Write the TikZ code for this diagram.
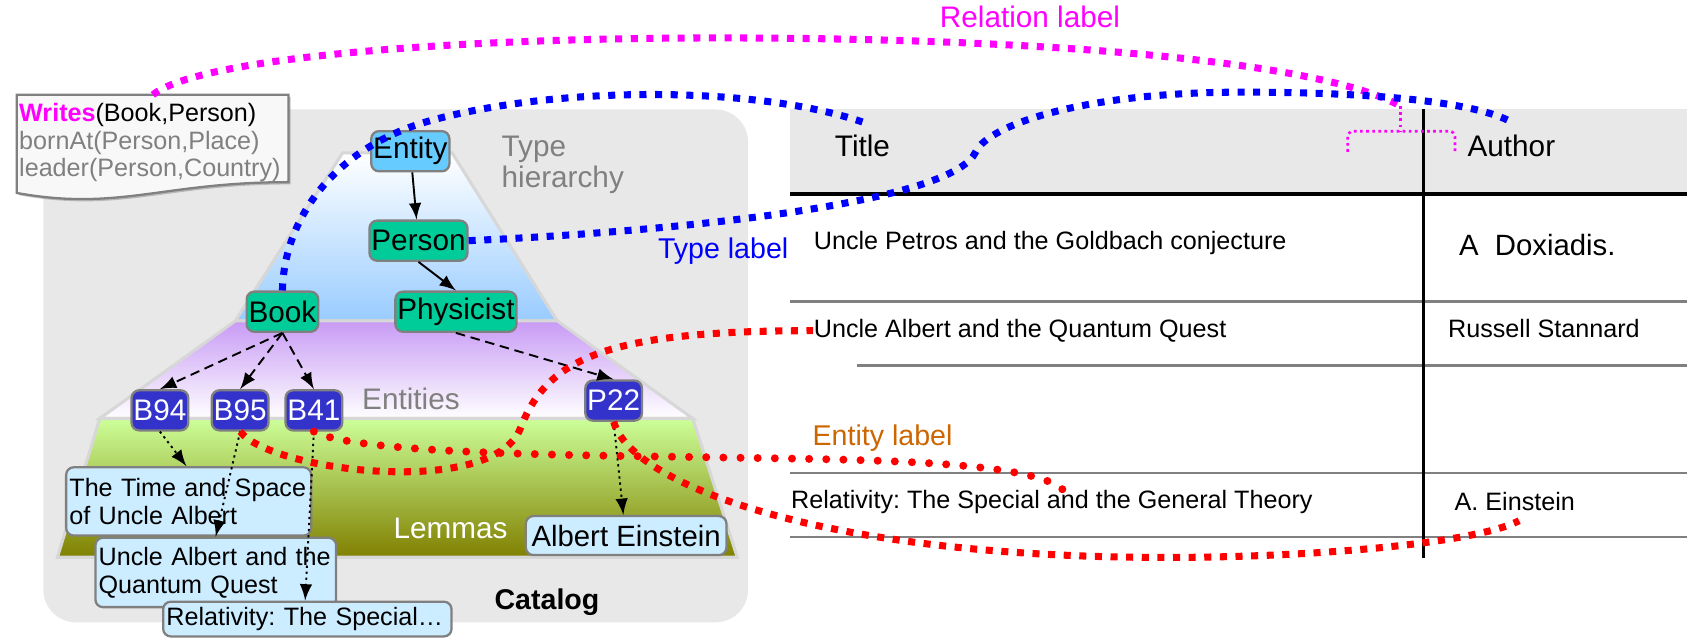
\documentclass[tikz,border=0pt]{standalone}
\usepackage{fontspec}
\setmainfont{Liberation Sans}
\usepackage{xcolor}
\usetikzlibrary{shadows}

\definecolor{catgray}{RGB}{232,232,232}
\definecolor{entblue}{RGB}{102,204,255}
\definecolor{typegreen}{RGB}{0,204,153}
\definecolor{instblue}{RGB}{51,51,204}
\definecolor{lemcyan}{RGB}{204,236,255}
\definecolor{boxgray}{RGB}{128,128,128}
\definecolor{txtgray}{RGB}{128,128,128}
\definecolor{skyb}{RGB}{153,204,255}
\definecolor{lilac}{RGB}{200,155,245}
\definecolor{lgreen}{RGB}{204,255,153}
\definecolor{olivegreen}{RGB}{128,128,0}
\definecolor{lblorange}{RGB}{204,102,0}
\definecolor{edgegray}{RGB}{215,215,215}
\definecolor{notewhite}{RGB}{248,248,248}
\definecolor{relmag}{RGB}{255,0,255}
\definecolor{typeblue}{RGB}{0,0,255}
\definecolor{entred}{RGB}{255,0,0}

\tikzset{
  nodebox/.style={draw=boxgray, line width=0.6pt, rounded corners=2pt, inner sep=0.5pt, minimum height=0.37cm},
  typebox/.style={nodebox, fill=typegreen},
  instbox/.style={nodebox, fill=instblue, text=white, minimum width=0.51cm},
  lembox/.style={nodebox, fill=lemcyan, align=left, inner xsep=0.03cm, font=\fontsize{6.6}{7.4}\selectfont},
  pyrlayer/.style={draw=edgegray, line width=0.8pt},
  sqdots/.style={line width=1.85pt, dash pattern=on 1.85pt off 2.25pt},
  rddots/.style={line width=2.1pt, line cap=round, dash pattern=on 0pt off 4.5pt},
  bracedots/.style={relmag, line width=0.7pt, dash pattern=on 0.7pt off 0.9pt},
  isa/.style={-latex, line width=0.5pt},
  instarrow/.style={-latex, line width=0.5pt, dash pattern=on 2.5pt off 1.5pt},
  lemarrow/.style={-latex, line width=0.5pt, dash pattern=on 0.6pt off 1pt},
  tabtxt/.style={anchor=west, inner sep=0pt, font=\fontsize{6.6}{8}\selectfont},
  rowline/.style={draw=boxgray, line width=0.6pt},
}

\begin{document}
\frenchspacing
\begin{tikzpicture}[font=\fontsize{7.8}{9.4}\selectfont]

\useasboundingbox (0,0) rectangle (15.68,5.92);

\fill[catgray, rounded corners=0.3cm] (0.40,0.18) rectangle (6.90,4.91);

\shadedraw[pyrlayer, top color=white, bottom color=skyb] (3.16,4.51) -- (4.17,4.51) -- (5.14,2.96) -- (2.17,2.96) -- cycle;
\shadedraw[pyrlayer, top color=lilac, bottom color=white] (2.17,2.96) -- (5.14,2.96) -- (6.39,2.06) -- (0.92,2.06) -- cycle;
\shadedraw[pyrlayer, top color=lgreen, bottom color=olivegreen] (0.92,2.06) -- (6.39,2.06) -- (6.80,0.78) -- (0.53,0.78) -- cycle;

\fill[catgray] (7.29,4.13) rectangle (15.56,4.91);
\draw[rowline] (7.29,3.14) -- (15.56,3.14);
\draw[rowline] (7.90,2.55) -- (15.56,2.55);
\draw[rowline] (7.29,1.56) -- (15.56,1.56);
\draw[rowline] (7.29,0.97) -- (15.56,0.97);
\draw[line width=0.9pt] (7.29,4.13) -- (15.56,4.13);
\draw[line width=0.7pt] (13.13,4.91) -- (13.13,0.77);

\draw[draw=boxgray, fill=notewhite, line width=0.6pt, drop shadow={shadow xshift=0.6pt, shadow yshift=-0.6pt, opacity=0.45}]
  (0.155,5.045) -- (2.66,5.045) -- (2.66,4.24) .. controls (1.50,4.24) and (1.10,3.97) .. (0.155,4.14) -- cycle;
\coordinate (notetop) at (1.41,5.045);
\node[anchor=north west, align=left, inner sep=0pt, font=\fontsize{6.6}{7.1}\selectfont] at (0.17,4.97) (notetxt)
  {{\color{relmag}\bfseries Writes}(Book,Person)\\ \textcolor{txtgray}{bornAt(Person,Place)}\\ \textcolor{txtgray}{leader(Person,Country)}};

\node[typebox, fill=entblue] at (3.785,4.525) (en) {Entity};
\node[typebox] at (3.86,3.70) (ps) {Person};
\node[typebox] at (2.605,3.045) (bk) {Book};
\node[typebox] at (4.205,3.045) (phy) {Physicist};
\node[instbox] at (1.475,2.135) (b94) {B94};
\node[instbox] at (2.215,2.135) (b95) {B95};
\node[instbox] at (2.895,2.135) (b41) {B41};
\node[instbox] at (5.66,2.225) (p22) {P22};

\node[lembox, text width=2.20cm, minimum height=0.63cm] at (1.74,1.295) (tsua) {The Time and Space\\of Uncle Albert};
\node[lembox, text width=2.16cm, minimum height=0.64cm] at (1.99,0.64) (uaqq) {Uncle Albert and the\\Quantum Quest};
\node[lembox, text width=2.60cm, minimum height=0.32cm] at (2.835,0.21) (rtsp) {Relativity: The Special…};
\node[lembox, align=center, minimum width=1.85cm, minimum height=0.36cm, font=\fontsize{7.7}{9}\selectfont] at (5.775,0.98) (aebox) {Albert Einstein};

\draw[isa] (en) -- (ps);
\draw[isa] (ps.south) -- (phy.north);
\draw[instarrow] (bk.south) -- (b94.north);
\draw[instarrow] (bk.south) -- (b95.north);
\draw[instarrow] (bk.south) -- (b41.north);
\draw[instarrow] (phy.south) -- (p22.north);
\draw[lemarrow] (b94.south) -- ([xshift=1.12cm]tsua.north west);
\draw[lemarrow] (b95.south) -- ([xshift=1.12cm]uaqq.north west);
\draw[lemarrow] (b41.south) -- ([xshift=1.32cm]rtsp.north west);
\draw[lemarrow] (p22.south) -- ([xshift=0.91cm]aebox.north west);

\node[text=txtgray, anchor=north west, align=left, inner sep=0pt, font=\fontsize{7.8}{8.25}\selectfont] at (4.62,4.675) (typehier) {Type\\hierarchy};
\node[text=txtgray] at (3.79,2.24) (entlbl) {Entities};
\node[text=white] at (4.155,1.05) (lemlbl) {Lemmas};
\node[font=\fontsize{7.5}{9}\selectfont\bfseries] at (5.045,0.37) (catlbl) {Catalog};

\node[text=typeblue, font=\fontsize{7.5}{9}\selectfont] at (6.67,3.60) (typelabel) {Type label};
\node[text=lblorange, font=\fontsize{7.5}{9}\selectfont] at (8.14,1.88) (entitylabel) {Entity label};
\node[text=relmag] at (9.50,5.76) (rellabel) {Relation label};

\node at (7.955,4.57) (ttl) {Title};
\node at (13.94,4.57) (au) {Author};
\node[tabtxt] at (7.50,3.68) (petros) {Uncle Petros and the Goldbach conjecture};
\node[tabtxt, font=\fontsize{7.7}{9}\selectfont] at (13.45,3.66) (doxi) {A\ \ Doxiadis.};
\node[tabtxt] at (7.50,2.87) (qrow) {Uncle Albert and the Quantum Quest};
\node[tabtxt] at (13.35,2.89) (russ) {Russell Stannard};
\node[tabtxt] at (7.29,1.29) (rrow) {Relativity: The Special and the General Theory};
\node[tabtxt] at (13.41,1.29) (aein) {A. Einstein};

\coordinate (bracetop) at (12.92,4.94);
\draw[bracedots] (bracetop) -- (12.92,4.71);
\draw[bracedots, rounded corners=1.5pt] (12.43,4.52) |- (13.42,4.71) -- (13.42,4.52);

\draw[sqdots, relmag] (notetop) .. controls (1.80,5.37) and (4.00,5.57) .. (6.64,5.57) .. controls (9.50,5.57) and (12.15,5.37) .. (bracetop);
\draw[sqdots, typeblue] (bk.north) .. controls (2.62,3.92) and (3.10,4.57) .. (3.98,4.81) .. controls (5.20,5.14) and (7.00,5.12) .. (ttl.north);
\draw[sqdots, typeblue] (ps.east) .. controls (6.50,3.80) and (8.80,4.07) .. (9.00,4.52) .. controls (9.12,4.77) and (10.00,5.07) .. (11.45,5.07) .. controls (12.75,5.07) and (13.62,4.97) .. (au.north);
\draw[sqdots, entred] (b95.south) .. controls (2.50,1.57) and (4.55,1.32) .. (4.80,1.97) .. controls (5.05,2.62) and (5.60,2.87) .. (qrow.west);
\draw[rddots, entred] (b41.south) .. controls (3.30,1.72) and (5.60,1.72) .. (6.66,1.70) .. controls (8.00,1.68) and (9.50,1.67) .. ([xshift=0.1cm]rrow.north);
\draw[sqdots, entred] (p22.south) .. controls (5.80,1.52) and (7.20,0.92) .. (9.80,0.80) .. controls (11.45,0.72) and (13.55,0.87) .. ([xshift=0.04cm, yshift=-0.08cm]aein.south);

\end{tikzpicture}
\end{document}
